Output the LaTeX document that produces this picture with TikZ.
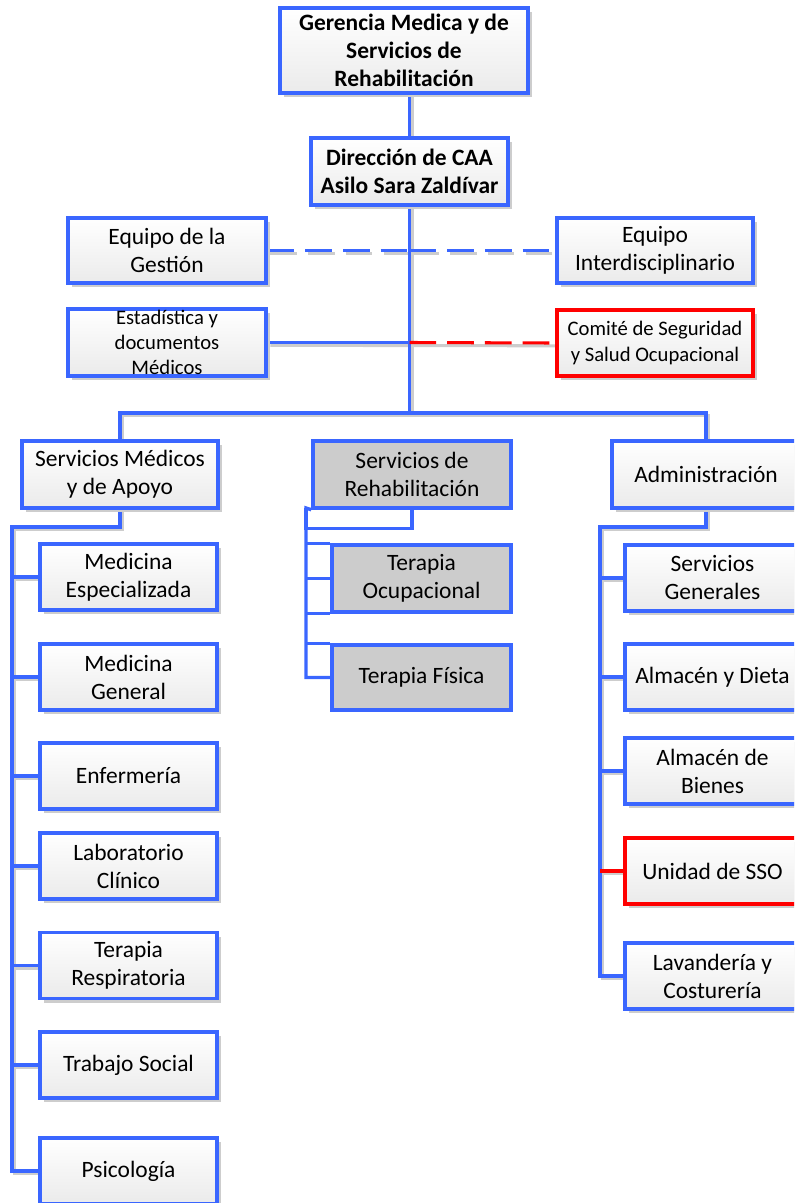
\documentclass[tikz,border=0pt]{standalone}
\usepackage{fontspec}
\setmainfont{Carlito}
\usetikzlibrary{shadows}
\definecolor{orgblue}{RGB}{58,102,255}
\definecolor{orgred}{RGB}{255,0,0}
\definecolor{boxgray}{RGB}{204,204,204}
\definecolor{shadegray}{RGB}{205,205,205}
\pgfdeclarelayer{background}
\pgfsetlayers{background,main}
\begin{document}
\begin{tikzpicture}[x=0.75pt,y=-0.75pt,
  size/.style 2 args={minimum width=#1*0.75pt, minimum height=#2*0.75pt},
  basebox/.style={rectangle, inner sep=0pt, align=center, text=black,
    font=\fontsize{17.6}{21}\selectfont},
  unitbox/.style={basebox, draw=orgblue, line width=2.3pt,
    top color=white, bottom color=black!8,
    drop shadow={shadow xshift=3pt, shadow yshift=-3pt, fill=shadegray, opacity=1}},
  redbox/.style={unitbox, draw=orgred},
  headbox/.style={unitbox, font=\fontsize{17.6}{21}\selectfont\bfseries},
  rehabbox/.style={basebox, draw=orgblue, line width=2.6pt, fill=boxgray},
  smallfont/.style={font=\fontsize{15.5}{#1}\selectfont},
  wire/.style={draw=orgblue, line width=2.3pt},
  redwire/.style={draw=orgred, line width=2.3pt},
  shadowwire/.style={draw=shadegray, line width=2.3pt},
  rehabwire/.style={draw=orgblue, line width=2.6pt},
  dashes/.style={dash pattern=on 20pt off 8.3pt},
  bluedash/.style={wire, dashes},
  reddash/.style={redwire, dashes},
]
\useasboundingbox (0,0) rectangle (794,1203);
\clip (0,0) rectangle (794,1203);

% upper management
\node[headbox, size={248}{85}] (ger) at (404,50.5) {Gerencia Medica y de\\Servicios de\\Rehabilitación};
\node[headbox, size={197}{67}] (dir) at (409.5,171.5) {Dirección de CAA\\Asilo Sara Zaldívar};

% staff units
\node[unitbox, size={198}{65}] (eqg) at (167,250.5) {Equipo de la\\Gestión};
\node[unitbox, size={196}{65}] (eqi) at (655,250.5) {Equipo\\Interdisciplinario};
\node[unitbox, smallfont=18.8, size={198}{67}] (est) at (167,342.5) {Estadística y\\documentos\\Médicos};
\node[redbox, smallfont=19.5, size={196}{66}] (com) at (655,343) {Comité de Seguridad\\y Salud Ocupacional};

% divisions
\node[unitbox, size={196}{67}] (sm) at (120,474.5) {Servicios Médicos\\y de Apoyo};
\node[rehabbox, size={198}{67}] (reh) at (412,474.5) {Servicios de\\Rehabilitación};
\node[unitbox, size={188}{67}] (adm) at (706,474.5) {Administración};

% medical services
\node[unitbox, size={177}{66}] (me) at (128.5,577) {Medicina\\Especializada};
\node[unitbox, size={177}{66}] (mg) at (128.5,677) {Medicina\\General};
\node[unitbox, size={177}{66}] (enf) at (128.5,776) {Enfermería};
\node[unitbox, size={177}{66}] (lab) at (128.5,866) {Laboratorio\\Clínico};
\node[unitbox, size={177}{66}] (tr) at (128.5,965.5) {Terapia\\Respiratoria};
\node[unitbox, size={177}{66}] (ts) at (128.5,1065) {Trabajo Social};
\node[unitbox, size={177}{66}] (psi) at (128.5,1171) {Psicología};

% rehabilitation services
\node[rehabbox, size={179}{67}] (to) at (421.5,578.5) {Terapia\\Ocupacional};
\node[rehabbox, size={179}{65}] (tf) at (421.5,677.5) {Terapia Física};

% administration
\node[unitbox, size={175}{66}] (sg) at (712.5,578) {Servicios\\Generales};
\node[unitbox, size={175}{66}] (ad) at (712.5,677) {Almacén y Dieta};
\node[unitbox, size={175}{66}] (ab) at (712.5,771) {Almacén de\\Bienes};
\node[redbox, size={175}{66}] (sso) at (712.5,871) {Unidad de SSO};
\node[unitbox, size={175}{66}] (lc) at (712.5,976) {Lavandería y\\Costurería};

% bus coordinates
\coordinate (hub) at (409.5,413);
\coordinate (lbus) at (12,527);
\coordinate (rbus) at (306,508);
\coordinate (abus) at (600,527);
\coordinate (eqmid) at (eqg.east -| dir.south);
\coordinate (estmid) at (est.east -| dir.south);

\begin{pgfonlayer}{background}
% connector shadows
\begin{scope}[transform canvas={shift={(2.8,2.8)}}]
  \path[shadowwire] (dir.north) -- (dir.north |- ger.south);
  \path[shadowwire] (dir.south) -- (hub);
  \path[shadowwire, dashes] (eqg.east) -- (eqmid);
  \path[shadowwire, dashes] (eqmid) -- (eqi.west);
  \path[shadowwire] (est.east) -- (com.west);
  \path[shadowwire] (sm.north) |- (hub) -| (adm.north);
  \path[shadowwire] (sm.south) |- (lbus) |- (psi.west);
  \foreach \n in {me,mg,enf,lab,tr,ts} \path[shadowwire] (lbus |- \n.west) -- (\n.west);
  \path[shadowwire] (adm.south) |- (abus) |- (lc.west);
  \foreach \n in {sg,ad,ab,sso} \path[shadowwire] (abus |- \n.west) -- (\n.west);
\end{scope}

% reporting lines
\draw[wire] (dir.north) -- (dir.north |- ger.south);
\draw[wire] (dir.south) -- (hub);
\draw[bluedash] (eqg.east) -- (eqmid);
\draw[bluedash] (eqmid) -- (eqi.west);
\draw[wire] (est.east) -- (estmid);
\draw[reddash] (estmid) -- (com.west);
\draw[wire] (sm.north) |- (hub) -| (adm.north);

\draw[wire] (sm.south) |- (lbus) |- (psi.west);
\foreach \n in {me,mg,enf,lab,tr,ts} \draw[wire] (lbus |- \n.west) -- (\n.west);

\draw[rehabwire] (reh.south west) -- (rbus) -- (rbus |- tf.west) -- (tf.west);
\draw[rehabwire] (reh.south) -- ++(0,19) -| (rbus);
\foreach \a in {to.north west,to.west,to.south west,tf.north west}
  \draw[rehabwire] (rbus |- \a) -- (\a);

\draw[wire] (adm.south) |- (abus) |- (lc.west);
\foreach \n in {sg,ad,ab} \draw[wire] (abus |- \n.west) -- (\n.west);
\draw[redwire] (abus |- sso.west) -- (sso.west);
\end{pgfonlayer}
\end{tikzpicture}
\end{document}
